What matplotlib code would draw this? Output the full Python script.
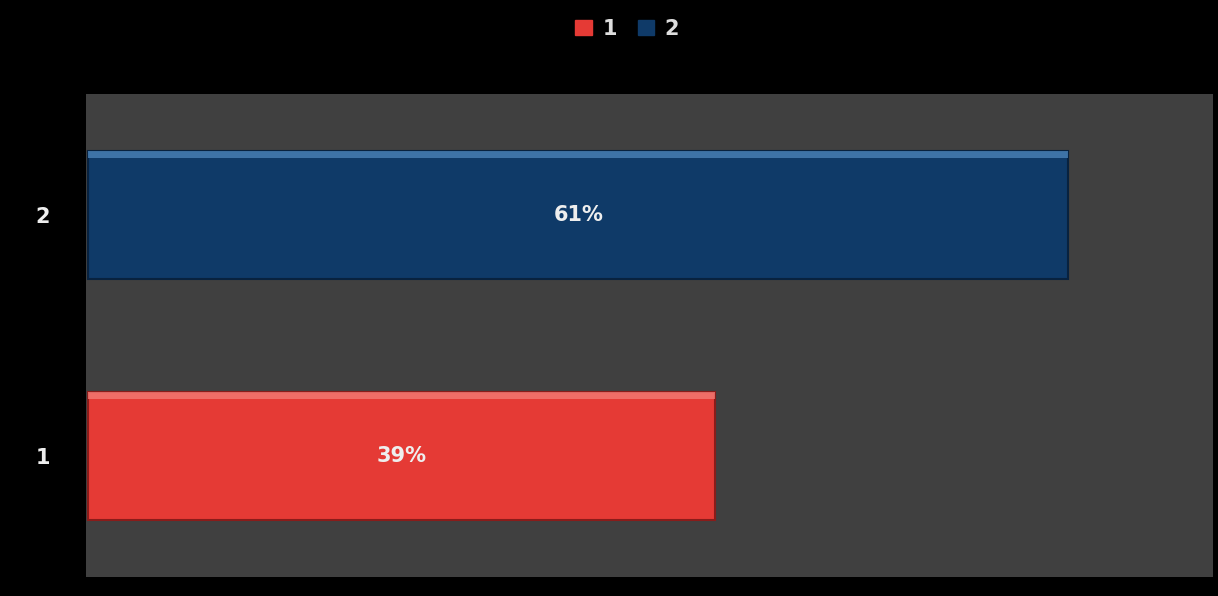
import matplotlib
matplotlib.use("Agg")
import matplotlib.pyplot as plt
import numpy as np
from matplotlib.patches import Patch

categories = ["1", "2"]
values = [39, 61]
labels = ["39%", "61%"]
colors = ["#e53a35", "#0f3a68"]
edge_colors = ["#8a1c1a", "#08223f"]
highlight = ["#f27a74", "#4a82b8"]

fig = plt.figure(figsize=(12.18, 5.96), dpi=100, facecolor="black")
ax = fig.add_axes([86/1218, (596-577)/596, (1213-86)/1218, (577-94)/596])
ax.set_facecolor("#404040")

y = np.arange(1, len(categories) + 1)
h = 0.53
ax.barh(y, values, height=h, color=colors, edgecolor=edge_colors, linewidth=1.5, zorder=2)
for yi, v, hc in zip(y, values, highlight):
    ax.barh(yi + h/2 - 0.015, v, height=0.03, color=hc, linewidth=0, zorder=3, alpha=0.8)

for yi, v, lab in zip(y, values, labels):
    ax.text(v/2, yi, lab, color="#eeeeee", fontsize=15, fontweight="bold",
            ha="center", va="center", zorder=4)

ax.set_xlim(-0.15, 70)
ax.set_ylim(0.5, 2.5)
ax.set_yticks(y)
ax.set_yticklabels(categories, color="#eeeeee", fontsize=15, fontweight="bold")
ax.tick_params(axis="y", length=0, pad=26)
ax.set_xticks([])
for s in ax.spines.values():
    s.set_visible(False)

handles = [Patch(facecolor=c, edgecolor=c) for c in colors]
leg = fig.legend(handles, categories, loc="upper center", bbox_to_anchor=(0.515, 1.0),
                 ncol=2, frameon=False, handlelength=0.8, handleheight=0.8,
                 handletextpad=0.5, columnspacing=1.0, prop={"weight": "bold", "size": 15})
for t in leg.get_texts():
    t.set_color("#dddddd")

fig.savefig("out.png", dpi=100, facecolor="black")
